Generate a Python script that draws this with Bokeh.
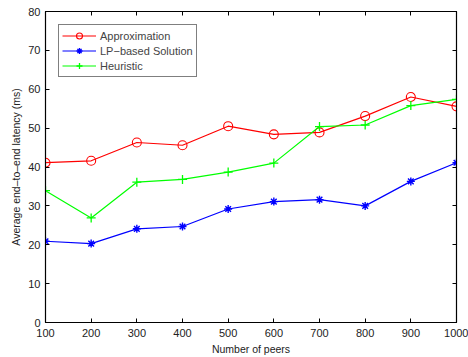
from bokeh.plotting import figure
from bokeh.models import LinearAxis, Legend, LegendItem, FixedTicker, Range1d
from bokeh.embed import file_html
from bokeh.resources import INLINE

peers = [100, 200, 300, 400, 500, 600, 700, 800, 900, 1000]
approximation = [41.1, 41.6, 46.3, 45.6, 50.5, 48.4, 48.9, 53.1, 58.0, 55.6]
lp_based = [20.9, 20.3, 24.1, 24.7, 29.2, 31.1, 31.6, 30.0, 36.3, 41.1]
heuristic = [33.9, 26.9, 36.1, 36.8, 38.7, 41.0, 50.4, 50.8, 55.8, 57.4]

x_ticks = [100, 200, 300, 400, 500, 600, 700, 800, 900, 1000]
y_ticks = [0, 10, 20, 30, 40, 50, 60, 70, 80]

FONT = "Liberation Sans"

p = figure(width=468, height=357, output_backend="svg", toolbar_location=None,
           x_range=Range1d(100, 1000), y_range=Range1d(0, 80),
           min_border_top=11, min_border_right=12, min_border_left=45, min_border_bottom=34)
p.grid.visible = False
p.outline_line_color = "black"
p.outline_line_width = 1.2
p.background_fill_color = "white"
p.border_fill_color = "white"

def style_axis(ax, ticks, labels=True):
    ax.ticker = FixedTicker(ticks=ticks)
    ax.major_tick_in = 4
    ax.major_tick_out = 0
    ax.minor_tick_line_color = None
    ax.axis_line_color = "black"
    ax.major_tick_line_color = "black"
    ax.major_label_text_font = FONT
    ax.major_label_text_font_size = "11px"
    ax.major_label_text_color = "#222222"
    ax.major_label_standoff = 5
    if not labels:
        ax.major_label_overrides = {t: "" for t in ticks}
        ax.major_label_standoff = 0

style_axis(p.xaxis[0], x_ticks)
style_axis(p.yaxis[0], y_ticks)
p.xaxis[0].major_label_standoff = 6
p.xaxis.axis_label = "Number of peers"
p.yaxis.axis_label = "Average end\u2013to\u2013end latency (ms)"
for ax in (p.xaxis[0], p.yaxis[0]):
    ax.axis_label_text_font = FONT
    ax.axis_label_text_font_size = "10.5px"
    ax.axis_label_text_font_style = "normal"
    ax.axis_label_text_color = "#222222"
    ax.axis_label_standoff = 3

top_ax = LinearAxis()
style_axis(top_ax, x_ticks, labels=False)
right_ax = LinearAxis()
style_axis(right_ax, y_ticks, labels=False)
p.add_layout(top_ax, "above")
p.add_layout(right_ax, "right")

r1 = p.line(peers, approximation, line_color="#FF0000", line_width=1.2)
m1 = p.scatter(peers, approximation, marker="circle", size=9, line_color="#FF0000",
               fill_color=None, line_width=1.1)
r2 = p.line(peers, lp_based, line_color="#0000FF", line_width=1.2)
m2 = p.scatter(peers, lp_based, marker="asterisk", size=8, line_color="#0000FF", line_width=1.4)
r3 = p.line(peers, heuristic, line_color="#00FF00", line_width=1.2)
m3 = p.scatter(peers, heuristic, marker="cross", size=9, line_color="#00FF00", line_width=1.3)

legend = Legend(items=[
    LegendItem(label="Approximation", renderers=[r1, m1]),
    LegendItem(label="LP\u2212based Solution", renderers=[r2, m2]),
    LegendItem(label="Heuristic", renderers=[r3, m3]),
], location="top_left")
legend.margin = 13
legend.border_line_color = "black"
legend.border_line_width = 1
legend.padding = 3
legend.spacing = 0
legend.label_text_font = FONT
legend.label_text_font_size = "11px"
legend.label_height = 15
legend.glyph_height = 15
legend.glyph_width = 34
legend.label_standoff = 4
legend.background_fill_alpha = 1
p.add_layout(legend, "center")

open("out.html", "w").write(file_html(p, INLINE))
